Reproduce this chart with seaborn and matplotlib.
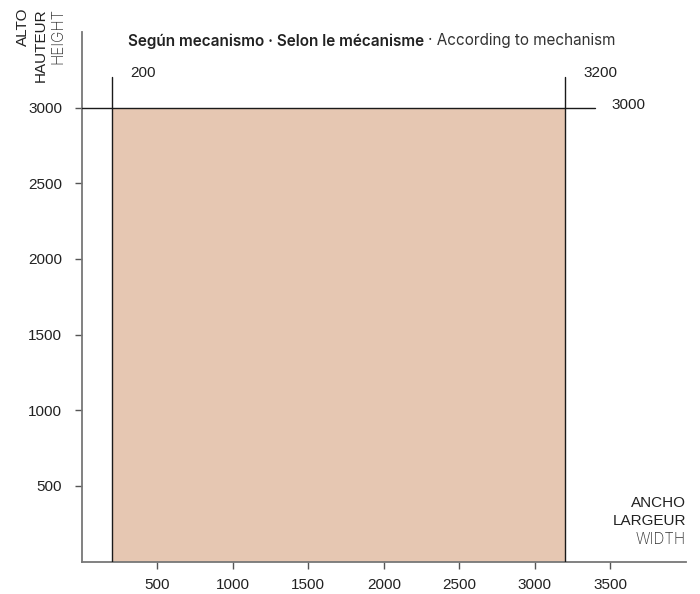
import matplotlib
matplotlib.use("Agg")
import matplotlib.pyplot as plt
import seaborn as sns
import pandas as pd

sns.set_theme(style="white")
plt.rcParams['font.family'] = ['Liberation Sans', 'DejaVu Sans']
plt.rcParams['xtick.bottom'] = True
plt.rcParams['ytick.left'] = True

# Data
width_min = 200
width_max = 3200
height_max = 3000
x_ticks = [500, 1000, 1500, 2000, 2500, 3000, 3500]
y_ticks = [500, 1000, 1500, 2000, 2500, 3000]
fill_color = "#e6c7b2"

df = pd.DataFrame({"width": [width_min, width_max], "height": [height_max, height_max]})

fig = plt.figure(figsize=(7.0, 5.94), dpi=100)
ax = fig.add_axes([81.5 / 700, (594 - 561.6) / 594, (686 - 81.5) / 700, (561.6 - 32) / 594])

ax.fill_between(df["width"], 0, df["height"], color=fill_color, linewidth=0, zorder=1)
ax.plot([width_min, width_min], [0, 3200], color="#1a1a1a", lw=1.0, zorder=3)
ax.plot([width_max, width_max], [0, 3200], color="#1a1a1a", lw=1.0, zorder=3)
ax.plot([0, 3400], [height_max, height_max], color="#1a1a1a", lw=1.0, zorder=3, clip_on=False)

ax.set_xlim(0, 4000)
ax.set_ylim(0, 3500)
ax.set_xticks(x_ticks)
ax.set_yticks(y_ticks)
ax.set_xticklabels([str(v) for v in x_ticks])
ax.set_yticklabels([str(v) for v in y_ticks])
ax.tick_params(axis="both", direction="out", length=5, width=1, color="#555555",
               labelsize=11, labelcolor="#222222", bottom=True, left=True)
ax.tick_params(axis="y", pad=9)
ax.tick_params(axis="x", pad=7)
for s in ["top", "right"]:
    ax.spines[s].set_visible(False)
for s in ["left", "bottom"]:
    ax.spines[s].set_color("#777777")
    ax.spines[s].set_linewidth(1.3)

# value annotations
ax.text(320, 3230, str(width_min), fontsize=11, color="#222222", ha="left", va="center")
ax.text(3320, 3230, str(width_max), fontsize=11, color="#222222", ha="left", va="center")
ax.text(3507, 3020, str(height_max), fontsize=11, color="#222222", ha="left", va="center")

# title
tf = ['Inter', 'DejaVu Sans']
ty = 1 - 41 / 594
fig.text(128 / 700, ty, "Según mecanismo · Selon le mécanisme",
         fontsize=11, fontweight="semibold", family=tf, color="#222222", va="center", ha="left")
fig.canvas.draw()
r = fig.canvas.get_renderer()
tmp = fig.text(128 / 700, ty, "Según mecanismo · Selon le mécanisme ",
               fontsize=11, fontweight="semibold", family=tf, alpha=0)
bb = tmp.get_window_extent(renderer=r)
tmp.remove()
fig.text(bb.x1 / 700, ty, "· According to mechanism",
         fontsize=11, fontweight="normal", family=tf, color="#333333", va="center", ha="left")

# y axis label
fig.text(23 / 700, 1 - 8 / 594, "ALTO", rotation=90, fontsize=11, color="#222222",
         ha="center", va="top")
fig.text(41 / 700, 1 - 8 / 594, "HAUTEUR", rotation=90, fontsize=11, color="#222222",
         ha="center", va="top")
fig.text(58 / 700, 1 - 8 / 594, "HEIGHT", rotation=90, fontsize=11, color="#333333",
         ha="center", va="top", fontweight="light", family=tf)

# x axis label
fig.text(686 / 700, 1 - 503 / 594, "ANCHO", fontsize=11, color="#222222", ha="right", va="center")
fig.text(686 / 700, 1 - 521 / 594, "LARGEUR", fontsize=11, color="#222222", ha="right", va="center")
fig.text(686 / 700, 1 - 539 / 594, "WIDTH", fontsize=11, color="#333333", ha="right", va="center",
         fontweight="light", family=tf)

fig.savefig("out.png", dpi=100)
